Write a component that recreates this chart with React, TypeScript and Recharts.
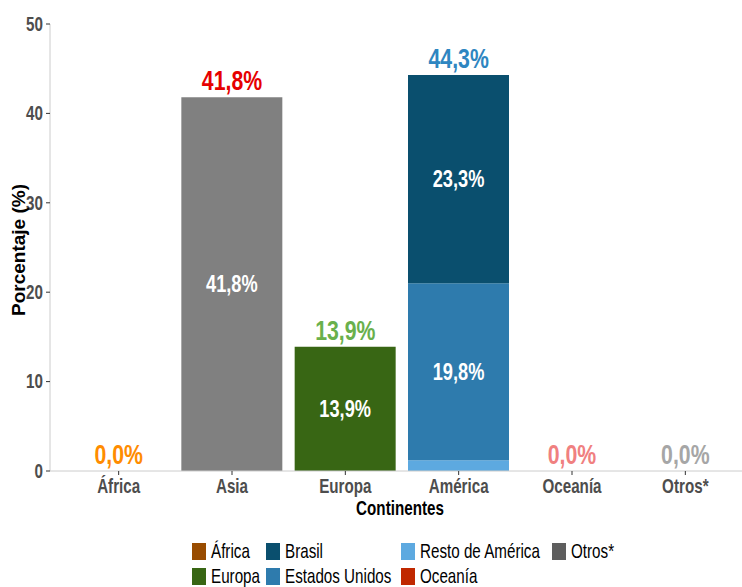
import React from 'react';
import { ComposedChart, Bar, Line, XAxis, YAxis, LabelList } from 'recharts';

const categories = ['África', 'Asia', 'Europa', 'América', 'Oceanía', 'Otros*'];
const africaVals = [0, 0, 0, 0, 0, 0];
const asiaVals = [0, 41.8, 0, 0, 0, 0];
const europaVals = [0, 0, 13.9, 0, 0, 0];
const restoVals = [0, 0, 0, 1.2, 0, 0];
const eeuuVals = [0, 0, 0, 19.8, 0, 0];
const brasilVals = [0, 0, 0, 23.3, 0, 0];
const oceaniaVals = [0, 0, 0, 0, 0, 0];
const otrosVals = [0, 0, 0, 0, 0, 0];
const totals = [0, 41.8, 13.9, 44.3, 0, 0];
const totalColors = ['#FF8C00', '#E60000', '#6AB04C', '#2E86C1', '#F08080', '#A6A6A6'];
const yTicks = [0, 10, 20, 30, 40, 50];

// legend: [name, colour, column x, row]
const legendItems: [string, string, number, number][] = [
  ['África', '#994C00', 192, 0],
  ['Europa', '#386614', 192, 1],
  ['Brasil', '#0A4F6E', 266, 0],
  ['Estados Unidos', '#2E7BAD', 266, 1],
  ['Resto de América', '#5DA9E0', 401, 0],
  ['Oceanía', '#C02800', 401, 1],
  ['Otros*', '#5E5E5E', 552, 0],
];

const data = categories.map((c, i) => ({
  name: c,
  africa: africaVals[i],
  asia: asiaVals[i],
  europa: europaVals[i],
  resto: restoVals[i],
  eeuu: eeuuVals[i],
  brasil: brasilVals[i],
  oceania: oceaniaVals[i],
  otros: otrosVals[i],
  total: totals[i],
}));

const FONT = '"Liberation Sans", Arial, sans-serif';
const SQ = 0.76; // squeeze to fake a narrow face
const fmt = (v: number) => v.toFixed(1).replace('.', ',') + '%';

const Narrow = ({ x, y, fill, size, children, anchor = 'middle', weight = 'bold' }: any) => (
  <text transform={`translate(${x},${y}) scale(${SQ},1)`} textAnchor={anchor} dominantBaseline="central"
    fill={fill} fontFamily={FONT} fontWeight={weight} fontSize={size}>
    {children}
  </text>
);

const innerLabel = (props: any) => {
  const { x, y, width, height, value } = props;
  if (!value) return null;
  return <Narrow x={x + width / 2} y={y + height / 2} fill="#fff" size={24}>{fmt(value)}</Narrow>;
};

const totalLabel = (props: any) => {
  const { x, y, value, index } = props;
  return <Narrow x={x} y={y - 17} fill={totalColors[index]} size={28}>{fmt(value)}</Narrow>;
};

const XTick = (props: any) => (
  <Narrow x={props.x} y={props.y + 9} fill="#4D4D4D" size={20}>{props.payload.value}</Narrow>
);
const YTick = (props: any) => (
  <Narrow x={props.x - 1} y={props.y} fill="#4D4D4D" size={20} anchor="end">{props.payload.value}</Narrow>
);

export default function App() {
  return (
    <div style={{ position: 'absolute', left: 0, top: 0, width: 742, height: 587, background: '#fff', overflow: 'hidden' }}>
      <ComposedChart width={742} height={587} data={data} margin={{ top: 24, right: 0, left: 0, bottom: 86 }}>
        <XAxis dataKey="name" height={30} padding={{ left: 12, right: 0 }}
          axisLine={{ stroke: '#CCCCCC' }} tickLine={{ stroke: '#333' }} tickSize={4}
          tick={<XTick />} interval={0} />
        <YAxis type="number" domain={[0, 50]} ticks={yTicks} width={50}
          axisLine={{ stroke: '#CCCCCC' }} tickLine={{ stroke: '#333' }} tickSize={4}
          tick={<YTick />} />
        <Bar dataKey="africa" stackId="a" fill="#994C00" barSize={101} isAnimationActive={false} />
        <Bar dataKey="asia" stackId="a" fill="#808080" barSize={101} isAnimationActive={false}>
          <LabelList dataKey="asia" content={innerLabel} />
        </Bar>
        <Bar dataKey="europa" stackId="a" fill="#386614" barSize={101} isAnimationActive={false}>
          <LabelList dataKey="europa" content={innerLabel} />
        </Bar>
        <Bar dataKey="resto" stackId="a" fill="#5DA9E0" barSize={101} isAnimationActive={false} />
        <Bar dataKey="eeuu" stackId="a" fill="#2E7BAD" barSize={101} isAnimationActive={false}>
          <LabelList dataKey="eeuu" content={innerLabel} />
        </Bar>
        <Bar dataKey="brasil" stackId="a" fill="#0A4F6E" barSize={101} isAnimationActive={false}>
          <LabelList dataKey="brasil" content={innerLabel} />
        </Bar>
        <Bar dataKey="oceania" stackId="a" fill="#C02800" barSize={101} isAnimationActive={false} />
        <Bar dataKey="otros" stackId="a" fill="#5E5E5E" barSize={101} isAnimationActive={false} />
        <Line dataKey="total" stroke="none" dot={false} activeDot={false} isAnimationActive={false}>
          <LabelList dataKey="total" content={totalLabel} />
        </Line>
      </ComposedChart>

      <div style={{ position: 'absolute', left: 19, top: 250, width: 0, height: 0, transform: 'rotate(-90deg)' }}>
        <div style={{ position: 'absolute', left: 0, top: 0, transform: 'translate(-50%, -50%)',
          fontFamily: FONT, fontWeight: 'bold', fontSize: 19, color: '#000', whiteSpace: 'nowrap', lineHeight: '20px' }}>
          Porcentaje (%)
        </div>
      </div>

      <svg width={742} height={587} style={{ position: 'absolute', left: 0, top: 0, pointerEvents: 'none' }}>
        <Narrow x={400} y={508} fill="#000" size={20}>Continentes</Narrow>
        {legendItems.map(([name, color, lx, row]) => (
          <g key={name}>
            <rect x={lx} y={543 + row * 25} width={14} height={17} fill={color} />
            <Narrow x={lx + 19} y={551 + row * 25} fill="#000" size={20} anchor="start" weight="normal">{name}</Narrow>
          </g>
        ))}
      </svg>
    </div>
  );
}
